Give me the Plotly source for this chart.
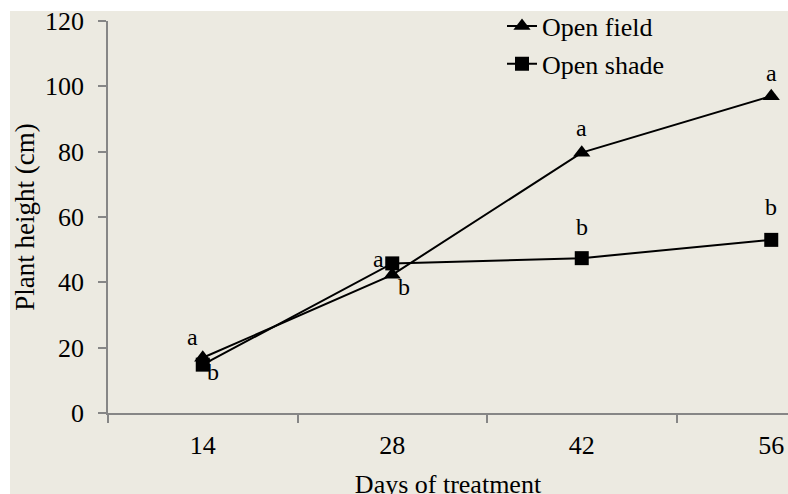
import plotly.graph_objects as go

days = ["14", "28", "42", "56"]
open_field = [16.9, 42.3, 79.7, 97.0]
open_shade = [14.8, 45.8, 47.4, 53.0]
field_letters = ["a", "b", "a", "a"]
shade_letters = ["b", "a", "b", "b"]

BG = "#ECEAE1"
FONT = "Liberation Serif, Times New Roman, serif"

fig = go.Figure()
fig.add_trace(go.Scatter(
    x=days, y=open_field, name="Open field", mode="lines+markers",
    line=dict(color="black", width=2),
    marker=dict(symbol="triangle-up", size=15, color="black"),
    legendgroup="f",
))
fig.add_trace(go.Scatter(
    x=days, y=open_shade, name="Open shade", mode="lines+markers",
    line=dict(color="black", width=2),
    marker=dict(symbol="square", size=14, color="black"),
    legendgroup="s",
))

# letter offsets (pixels) relative to each point
field_shift = [(-10, 21), (12, -12), (0, 25), (0, 23)]
shade_shift = [(10, -7), (-14, 4), (0, 31), (0, 33)]
for i, (v, t, (dx, dy)) in enumerate(zip(open_field, field_letters, field_shift)):
    fig.add_annotation(x=i, y=v, xref="x", yref="y", text=t, showarrow=False,
                       xshift=dx, yshift=dy,
                       font=dict(family=FONT, size=24, color="black"))
for i, (v, t, (dx, dy)) in enumerate(zip(open_shade, shade_letters, shade_shift)):
    fig.add_annotation(x=i, y=v, xref="x", yref="y", text=t, showarrow=False,
                       xshift=dx, yshift=dy,
                       font=dict(family=FONT, size=24, color="black"))

PH = 392.6  # plot height in px
PW = 680    # plot width in px

fig.update_layout(
    width=778, height=488,
    margin=dict(l=98, r=0, t=9.7, b=85.7, autoexpand=False),
    paper_bgcolor=BG, plot_bgcolor=BG,
    font=dict(family=FONT, size=26, color="black"),
    showlegend=True,
    legend=dict(x=(502 - 108) / PW, y=1 + 18.5 / PH, xanchor="left", yanchor="top",
                bgcolor="rgba(0,0,0,0)", font=dict(size=26),
                tracegroupgap=1, itemwidth=30),
    xaxis=dict(
        type="category", categoryorder="array", categoryarray=days,
        range=[-0.5, -0.5 + PW / 189.5],
        tickson="boundaries", ticks="outside", ticklen=8, tickcolor="#868686",
        tickwidth=1.5, showline=True, linecolor="#868686", linewidth=1.5,
        showgrid=False, zeroline=False, ticklabelstandoff=8,
        ticklabeloverflow="allow",
        title=dict(text="Days of treatment", standoff=30, font=dict(size=26)),
    ),
    yaxis=dict(
        range=[0, 120], tickmode="linear", tick0=0, dtick=20,
        ticks="outside", ticklen=8, tickcolor="#868686", tickwidth=1.5,
        showline=True, linecolor="#868686", linewidth=1.5,
        showgrid=False, zeroline=False, ticklabelstandoff=9,
        ticklabeloverflow="allow",
        title=dict(text="Plant height (cm)", standoff=6, font=dict(size=27)),
    ),
)

fig.write_html(
    "out.html",
    config={"displayModeBar": False},
    post_script="document.body.style.margin='11px 0 0 10px';"
                "document.body.style.background='white';"
                "document.body.style.overflow='hidden';"
                "document.documentElement.style.overflow='hidden';",
)
